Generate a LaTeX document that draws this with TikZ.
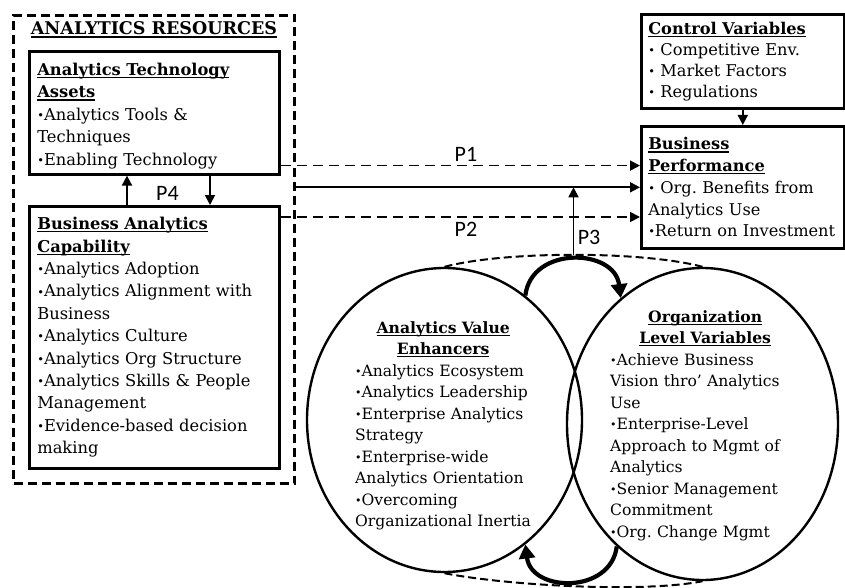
\documentclass[tikz,border=0pt]{standalone}
\usepackage{fontspec}
\setmainfont{DejaVu Serif}
\newfontfamily\pfont{Carlito}
\usetikzlibrary{arrows.meta,calc,shapes.geometric}
\frenchspacing

% underlined bold heading
\newsavebox\headbox
\newcommand\hd[1]{\leavevmode\sbox\headbox{\bfseries #1}\rlap{\rule[-2.8pt]{\wd\headbox}{1.3pt}}\usebox\headbox}
% small bullet
\newcommand\bul{\leavevmode\raisebox{0.1ex}{\scalebox{0.7}{•}}}
\newcommand\bodysize{\fontsize{16.3pt}{22.4pt}\selectfont}
\newcommand\ctrlsize{\fontsize{16.2pt}{21pt}\selectfont}
\newcommand\perfsize{\fontsize{16.2pt}{21.7pt}\selectfont}
\newcommand\circsize{\fontsize{15.6pt}{21.5pt}\selectfont}

\begin{document}
\begin{tikzpicture}[x=1pt,y=-1pt,
  panel/.style={draw, line width=2.6pt, anchor=north west, align=left,
    inner xsep=8pt, inner ysep=0pt, font=\bodysize},
  group/.style={draw, line width=3pt, dash pattern=on 9pt off 5pt,
    anchor=north west, inner sep=0pt},
  oval/.style={draw, ellipse, line width=2.4pt, inner sep=0pt},
  ovaltext/.style={anchor=north west, align=left, inner sep=0pt,
    text width=176pt, font=\circsize},
  link/.style={line width=1.8pt, -{Triangle[length=10pt,width=10pt]}},
  dlink/.style={link, dash pattern=on 10pt off 6pt},
  loop/.style={line width=4.2pt, -{Triangle[length=14pt,width=16pt]}},
  rim/.style={line width=2pt, dash pattern=on 8pt off 4pt},
  plabel/.style={font=\pfont\fontsize{22pt}{22pt}\selectfont, inner sep=0pt},
]
\useasboundingbox (0,0) rectangle (845,588);

% analytics resources group
\node[group, minimum width=281pt, minimum height=468pt] (res) at (12,14) {};
\node[font=\fontsize{17.5pt}{18pt}\selectfont, inner sep=0pt, anchor=base]
  (restitle) at ($(res.north)+(0,21)$) {\hd{ANALYTICS RESOURCES}};

\node[panel, text width=234pt, minimum height=123pt] (tech) at (28,50)
  {\rule{0pt}{18.5pt}\hd{Analytics Technology}\\\hd{Assets}\\\bul Analytics Tools \&\\Techniques\\\bul Enabling Technology};

\node[panel, text width=234pt, minimum height=262pt] (cap) at (28,205)
  {\hd{Business Analytics}\\\hd{Capability}\\\bul Analytics Adoption\\\bul Analytics Alignment with\\Business\\\bul Analytics Culture\\\bul Analytics Org Structure\\\bul Analytics Skills \& People\\Management\\\bul Evidence-based decision\\making};

% outcome side
\node[panel, font=\ctrlsize, inner xsep=7pt, text width=189pt, minimum height=94pt] (ctrl) at (640,13)
  {\hd{Control Variables}\\\bul\ Competitive Env.\\\bul\ Market Factors\\\bul\ Regulations};

\node[panel, font=\perfsize, inner xsep=7pt, text width=189pt, minimum height=122pt] (perf) at (640,125)
  {\hd{Business}\\\hd{Performance}\\\bul\ Org. Benefits from\\Analytics Use\\\bul Return on Investment};

% the two overlapping ovals
\node[oval, minimum width=275pt, minimum height=304pt] (lc) at (444.5,420) {};
\node[oval, minimum width=271pt, minimum height=312pt] (rc) at (702.5,424) {};

\node[ovaltext] (lctext) at (355,321)
  {\makebox[\hsize]{\hd{Analytics Value}}\\\makebox[\hsize]{\hd{Enhancers}}\\\bul Analytics Ecosystem\\\bul Analytics Leadership\\\bul Enterprise Analytics\\Strategy\\\bul Enterprise-wide\\Analytics Orientation\\\bul Overcoming\\Organizational Inertia};

\node[ovaltext] (rctext) at (610,310)
  {\makebox[\hsize]{\hspace{14pt}\hd{Organization}}\\\makebox[\hsize]{\hspace{14pt}\hd{Level Variables}}\\\bul Achieve Business\\Vision thro' Analytics\\Use\\\bul Enterprise-Level\\Approach to Mgmt of\\Analytics\\\bul Senior Management\\Commitment\\\bul Org. Change Mgmt};

% dashed rim joining the ovals
\draw[rim] (lc.north) .. controls +(60,-16) and +(-60,-16) .. (rc.north) coordinate[pos=0.5] (rimtop);
\draw[rim] (lc.south) .. controls +(60,12) and +(-60,12) .. (rc.south);

% feedback loops between the ovals
\draw[loop] (lc.57) .. controls +(6,-50) and +(-6,-50) .. (rc.123);
\draw[loop] (rc.235) .. controls +(-6,48) and +(6,48) .. (lc.303);

% propositions
\coordinate (p1s) at ($(tech.south east)+(0,-10)$);
\draw[dlink] (p1s) -- (p1s -| perf.west);
\draw[link] (res.east |- perf.west) -- (perf.west);
\coordinate (p2s) at ($(cap.north east)+(0,12)$);
\draw[dlink] (p2s) -- (p2s -| perf.west);
\draw[link] (rimtop) -- (rimtop |- perf.west);
\coordinate (p4up) at ($(cap.north west)+(99,0)$);
\draw[link] (p4up) -- (p4up |- tech.south);
\coordinate (p4dn) at ($(tech.south west)+(182,0)$);
\draw[link] (p4dn) -- (p4dn |- cap.north);
\draw[link] (ctrl.south) -- (perf.north);

\node[plabel] (lp1) at (466,154) {P1};
\node[plabel] (lp2) at (466,229.5) {P2};
\node[plabel] (lp3) at (589,237.5) {P3};
\node[plabel] (lp4) at (167.5,193.5) {P4};
\end{tikzpicture}
\end{document}
